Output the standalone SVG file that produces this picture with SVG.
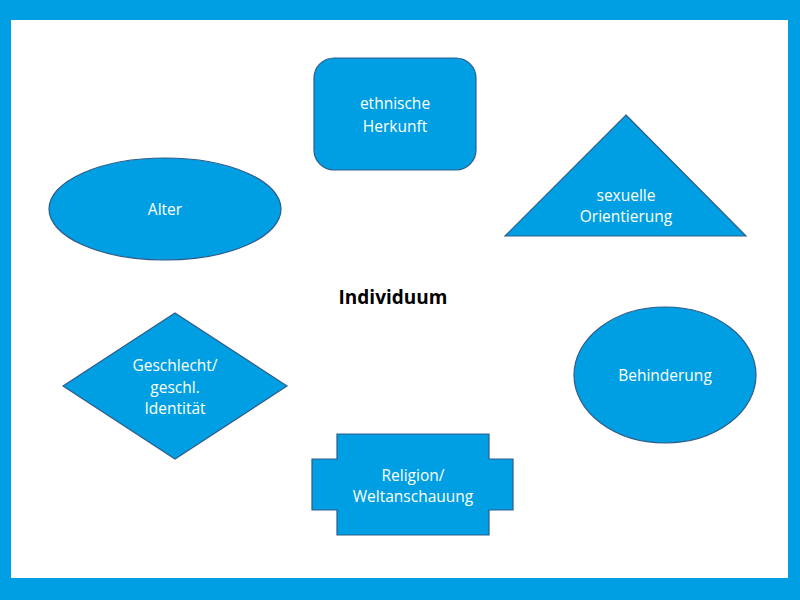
<svg xmlns="http://www.w3.org/2000/svg" width="800" height="600" viewBox="0 0 800 600">
<style>
.s{fill:#009FE3;stroke:#2E5C8A;stroke-width:1.2}
.t{font-family:"Open Sans","Liberation Sans",sans-serif;font-size:15.5px;fill:#fff;text-anchor:middle}
.c{font-family:"Open Sans","Liberation Sans",sans-serif;font-size:19px;font-weight:bold;fill:#000;text-anchor:middle}
</style>
<rect x="0" y="0" width="800" height="600" fill="#009FE3"/>
<rect x="11" y="20" width="777" height="558" fill="#fff"/>
<g id="individuum"><text class="c" x="393" y="304">Individuum</text></g>
<g id="herkunft"><rect class="s" x="314" y="58" width="162" height="112" rx="20"/><text class="t" x="395" y="109">ethnische</text><text class="t" x="395" y="132">Herkunft</text></g>
<g id="orientierung"><polygon class="s" points="626,115 746,236 505,236"/><text class="t" x="626" y="201">sexuelle</text><text class="t" x="626" y="222">Orientierung</text></g>
<g id="alter"><ellipse class="s" cx="165" cy="209" rx="116" ry="51"/><text class="t" x="165" y="215">Alter</text></g>
<g id="geschlecht"><polygon class="s" points="175,313 287,386 175,459 63,386"/><text class="t" x="175" y="371">Geschlecht/</text><text class="t" x="175" y="393">geschl.</text><text class="t" x="175" y="414">Identität</text></g>
<g id="behinderung"><ellipse class="s" cx="665" cy="375" rx="91" ry="68"/><text class="t" x="665" y="381">Behinderung</text></g>
<g id="religion"><polygon class="s" points="337,434 489,434 489,459 513,459 513,510 489,510 489,535 337,535 337,510 312,510 312,459 337,459"/><text class="t" x="413" y="481">Religion/</text><text class="t" x="413" y="502">Weltanschauung</text></g>
<g id="connectors"/>
</svg>
